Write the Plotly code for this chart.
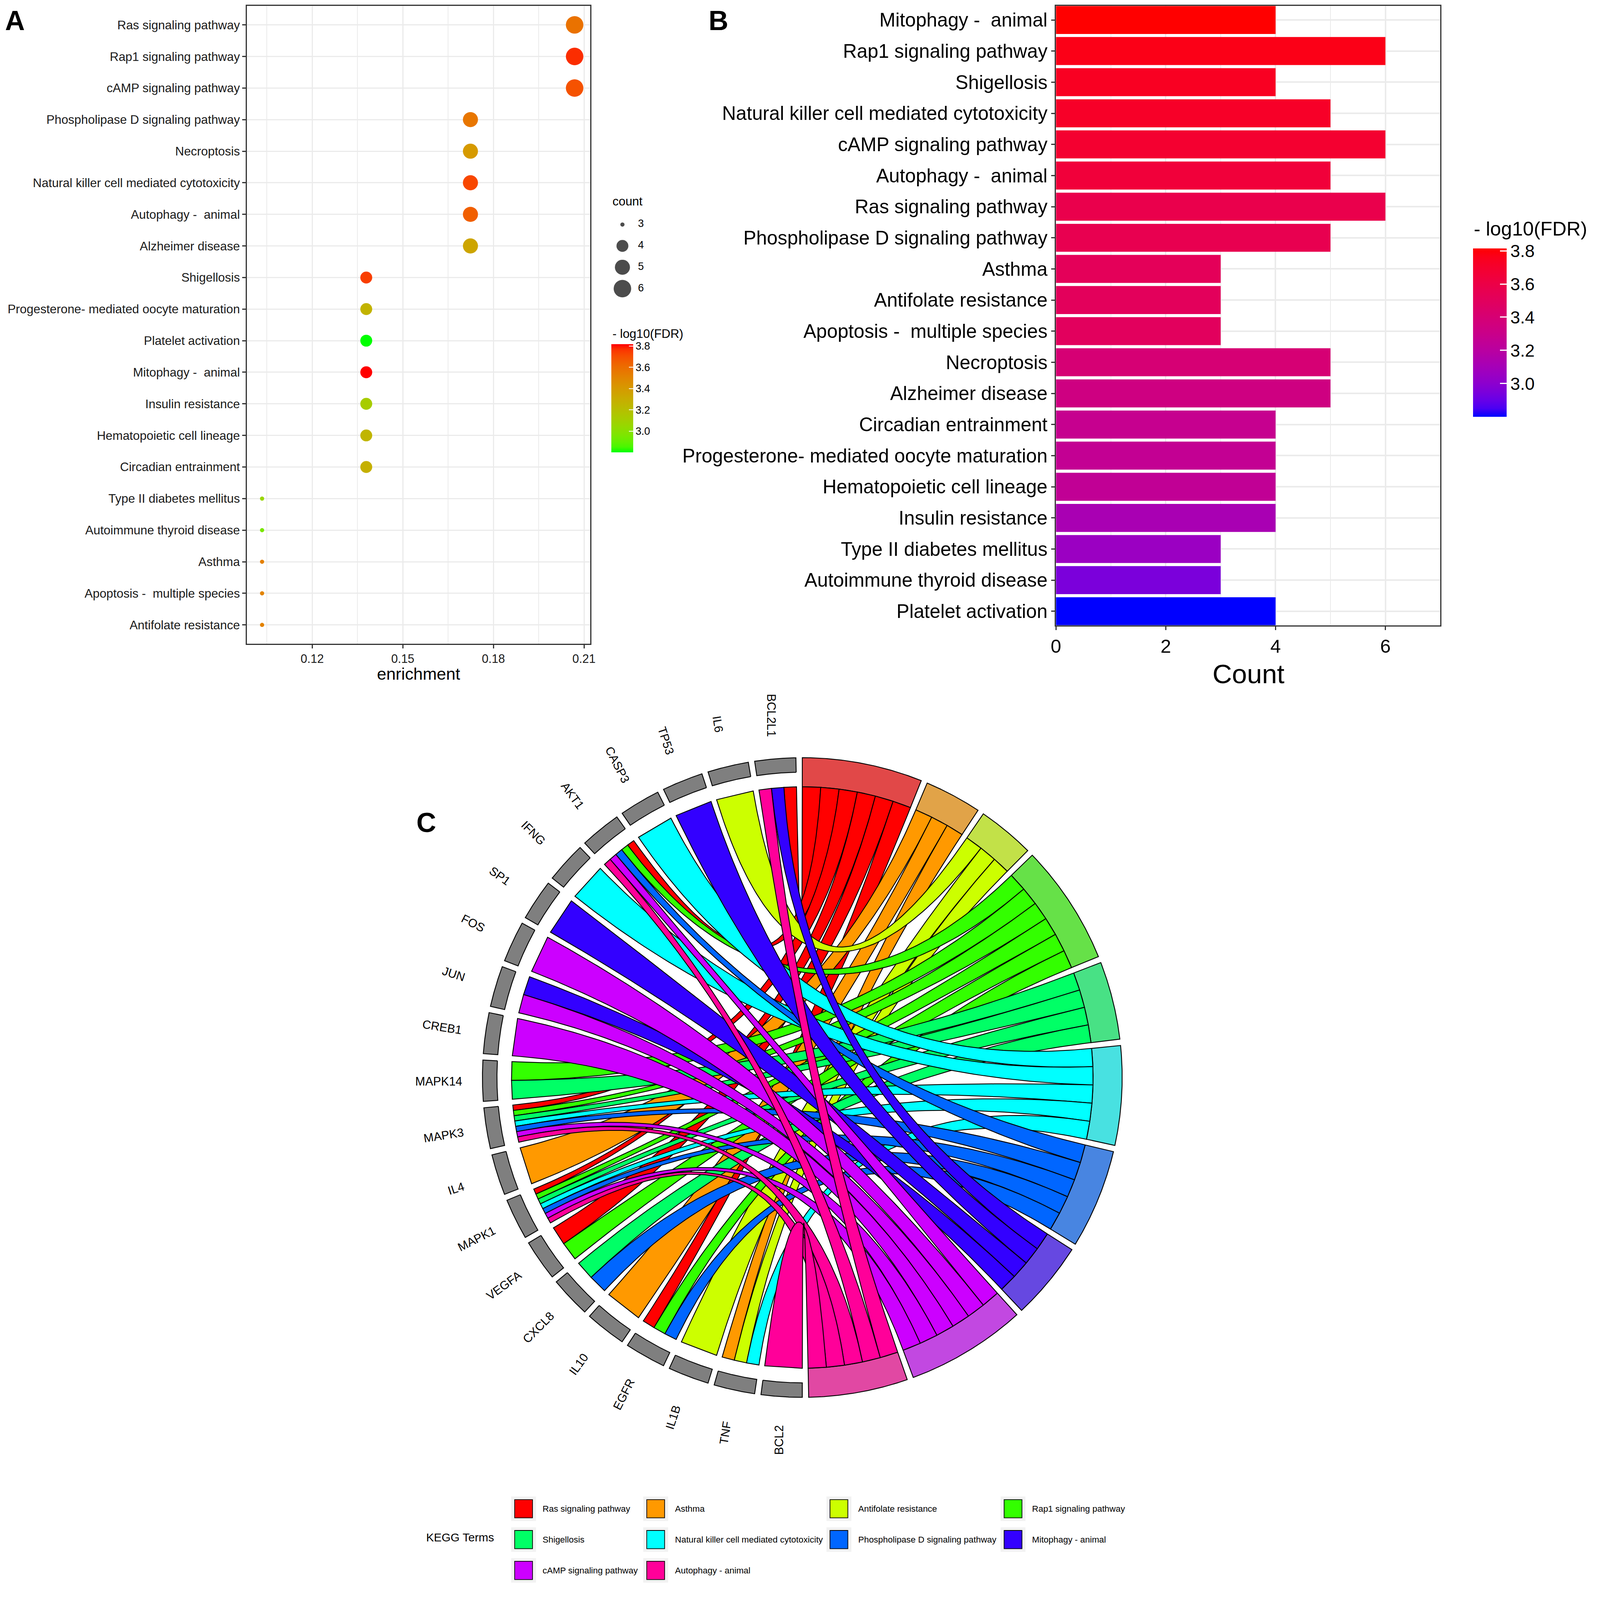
import numpy as np
import plotly.graph_objects as go

# layout is measured on a 4550 x 4515 grid; the page is drawn at a slightly smaller CSS size
REF_W, REF_H = 4550, 4515
S = 1 / 1.115
FIG_W, FIG_H = round(REF_W * S), round(REF_H * S)
FONT = "Liberation Sans, Arial, sans-serif"

# ---------------- data: panels A and B ----------------
# pathways in the order of panel B (top to bottom)
pathways = ["Mitophagy - animal", "Rap1 signaling pathway", "Shigellosis",
            "Natural killer cell mediated cytotoxicity", "cAMP signaling pathway",
            "Autophagy - animal", "Ras signaling pathway", "Phospholipase D signaling pathway",
            "Asthma", "Antifolate resistance", "Apoptosis - multiple species", "Necroptosis",
            "Alzheimer disease", "Circadian entrainment", "Progesterone- mediated oocyte maturation",
            "Hematopoietic cell lineage", "Insulin resistance", "Type II diabetes mellitus",
            "Autoimmune thyroid disease", "Platelet activation"]
counts = [4, 6, 4, 5, 6, 5, 6, 5, 3, 3, 3, 5, 5, 4, 4, 4, 4, 3, 3, 4]
neg_log10_fdr = [3.815, 3.77, 3.74, 3.72, 3.69, 3.65, 3.58, 3.56, 3.52, 3.51, 3.50,
                 3.40, 3.34, 3.28, 3.26, 3.25, 3.12, 3.06, 2.95, 2.80]
enrichment = [0.1379, 0.2069, 0.1379, 0.1724, 0.2069, 0.1724, 0.2069, 0.1724, 0.1034, 0.1034,
              0.1034, 0.1724, 0.1724, 0.1379, 0.1379, 0.1379, 0.1379, 0.1034, 0.1034, 0.1379]
# panel A order (top to bottom)
order_a = ["Ras signaling pathway", "Rap1 signaling pathway", "cAMP signaling pathway",
           "Phospholipase D signaling pathway", "Necroptosis",
           "Natural killer cell mediated cytotoxicity", "Autophagy - animal", "Alzheimer disease",
           "Shigellosis", "Progesterone- mediated oocyte maturation", "Platelet activation",
           "Mitophagy - animal", "Insulin resistance", "Hematopoietic cell lineage",
           "Circadian entrainment", "Type II diabetes mellitus", "Autoimmune thyroid disease",
           "Asthma", "Apoptosis - multiple species", "Antifolate resistance"]
count_breaks = [3, 4, 5, 6]
fdr_ticks = [3.0, 3.2, 3.4, 3.6, 3.8]

# ---------------- data: panel C (chord) ----------------
kegg_terms = ["Ras signaling pathway", "Asthma", "Antifolate resistance", "Rap1 signaling pathway",
              "Shigellosis", "Natural killer cell mediated cytotoxicity",
              "Phospholipase D signaling pathway", "Mitophagy - animal",
              "cAMP signaling pathway", "Autophagy - animal"]
chord_genes = ["BCL2L1", "IL6", "TP53", "CASP3", "AKT1", "IFNG", "SP1", "FOS", "JUN", "CREB1",
               "MAPK14", "MAPK3", "IL4", "MAPK1", "VEGFA", "CXCL8", "IL10", "EGFR", "IL1B",
               "TNF", "BCL2"]
# term indices (into kegg_terms) for each gene
gene_terms = [[0, 7, 9], [2], [7], [5], [0, 3, 6, 8, 9], [5], [7], [8], [7, 8], [8],
              [3, 4], [0, 3, 4, 5, 6, 8, 9], [1], [0, 3, 4, 5, 6, 8, 9], [0, 3], [4, 6],
              [1], [0, 3, 6], [2], [1, 2, 5], [9]]

term_colors = ["#FF0000", "#FF9900", "#CCFF00", "#33FF00", "#00FF66",
               "#00FFFF", "#0066FF", "#3300FF", "#CC00FF", "#FF0099"]


def px_x(x):
    return x / REF_W


def px_y(y):
    return 1 - y / REF_H


def sz(v):
    return v * S


def label(name):
    return name.replace(" - ", " -\u00a0 ")


# Lab interpolated gradients (like ggplot's scale_*_gradient)
M = np.array([[0.4124564, 0.3575761, 0.1804375],
              [0.2126729, 0.7151522, 0.0721750],
              [0.0193339, 0.1191920, 0.9503041]])
WHITE = np.array([0.95047, 1.0, 1.08883])


def to_lab(h):
    rgb = np.array([int(h[i:i + 2], 16) for i in (1, 3, 5)]) / 255.0
    lin = np.where(rgb <= 0.04045, rgb / 12.92, ((rgb + 0.055) / 1.055) ** 2.4)
    xyz = M @ lin / WHITE
    f = np.where(xyz > 0.008856, np.cbrt(xyz), 7.787 * xyz + 16 / 116)
    return np.array([116 * f[1] - 16, 500 * (f[0] - f[1]), 200 * (f[1] - f[2])])


def to_hex(lab):
    fy = (lab[0] + 16) / 116
    f = np.array([fy + lab[1] / 500, fy, fy - lab[2] / 200])
    xyz = np.where(f ** 3 > 0.008856, f ** 3, (f - 16 / 116) / 7.787) * WHITE
    lin = np.clip(np.linalg.inv(M) @ xyz, 0, 1)
    rgb = np.where(lin <= 0.0031308, 12.92 * lin, 1.055 * lin ** (1 / 2.4) - 0.055)
    rgb = np.clip(np.round(rgb * 255), 0, 255).astype(int)
    return "#%02X%02X%02X" % tuple(rgb)


def gradient(low, high, n=21):
    a, b = to_lab(low), to_lab(high)
    return [[i / (n - 1), to_hex(a + (b - a) * i / (n - 1))] for i in range(n)]


green_red = gradient("#00FF00", "#FF0000")
blue_red = gradient("#0000FF", "#FF0000")

lo, hi = min(neg_log10_fdr), max(neg_log10_fdr)
cmin_c, cmax_c = min(counts), max(counts)


def dot_size(c):
    return sz(12 + 38 * np.sqrt((c - cmin_c) / (cmax_c - cmin_c)))


fig = go.Figure()

# ---------------- panel A ----------------
pos = {n: i for i, n in enumerate(pathways)}
a_idx = [pos[n] for n in order_a]
fig.add_trace(go.Scatter(
    x=[enrichment[i] for i in a_idx], y=[label(n) for n in order_a], mode="markers",
    marker=dict(size=[dot_size(counts[i]) for i in a_idx],
                color=[neg_log10_fdr[i] for i in a_idx], colorscale=green_red,
                cmin=lo, cmax=hi, opacity=1, line=dict(width=0),
                colorbar=dict(x=px_x(1736), xanchor="left", xpad=0, y=px_y(974), yanchor="top",
                              ypad=0, len=sz(309), lenmode="pixels", thickness=sz(62),
                              outlinewidth=0, tickvals=fdr_ticks, tickformat=".1f",
                              ticks="inside", ticklen=sz(12), tickcolor="white", tickwidth=sz(2),
                              tickfont=dict(size=sz(30), color="black", family=FONT))),
    xaxis="x", yaxis="y", hoverinfo="skip"))

# size legend for panel A
fig.add_trace(go.Scatter(
    x=[0.23] * len(count_breaks), y=count_breaks, mode="markers",
    marker=dict(size=[dot_size(c) for c in count_breaks], color="black", line=dict(width=0)),
    xaxis="x3", yaxis="y3", hoverinfo="skip"))
fig.add_trace(go.Scatter(
    x=[0.6] * len(count_breaks), y=count_breaks, mode="text", text=[str(c) for c in count_breaks],
    textposition="middle right", textfont=dict(size=sz(30), color="black", family=FONT),
    xaxis="x3", yaxis="y3", hoverinfo="skip"))

# ---------------- panel B ----------------
fig.add_trace(go.Bar(
    x=counts, y=[label(n) for n in pathways], orientation="h", width=0.9,
    marker=dict(color=neg_log10_fdr, colorscale=blue_red, cmin=lo, cmax=hi, line=dict(width=0),
                colorbar=dict(x=px_x(4195), xanchor="left", xpad=0, y=px_y(700), yanchor="top",
                              ypad=0, len=sz(481), lenmode="pixels", thickness=sz(96),
                              outlinewidth=0, tickvals=fdr_ticks, tickformat=".1f",
                              ticks="inside", ticklen=sz(18), tickcolor="white", tickwidth=sz(3),
                              tickfont=dict(size=sz(50), color="black", family=FONT))),
    xaxis="x2", yaxis="y2", hoverinfo="skip"))

# ---------------- panel C: chord (GOChord layout) ----------------
space = 0.02
n_gen = len(chord_genes)
nrib = [sum(t in g for g in gene_terms) for t in range(len(kegg_terms))]
tot = sum(nrib)
proc_start = np.concatenate([[0.0], np.cumsum([np.pi * n / tot for n in nrib])[:-1]])
proc_width = [np.pi * n / tot - space for n in nrib]
gene_start = [-space - i * np.pi / n_gen for i in range(n_gen)]
gene_width = -np.pi / n_gen + space
edge = sz(2.5)


def ring(r1, r2, a0, a1, n=60):
    a = np.linspace(a0, a1, n)
    xs = np.concatenate([r1 * np.sin(a), r2 * np.sin(a[::-1])])
    ys = np.concatenate([r1 * np.cos(a), r2 * np.cos(a[::-1])])
    return list(np.append(xs, xs[0])), list(np.append(ys, ys[0]))


# process segments: gray70 under the colour at alpha 0.6
for t, col in enumerate(term_colors):
    rgb = np.array([int(col[i:i + 2], 16) for i in (1, 3, 5)])
    mix = np.round(0.6 * rgb + 0.4 * 179).astype(int)
    xs, ys = ring(1.0, 1.1, proc_start[t], proc_start[t] + proc_width[t])
    fig.add_trace(go.Scatter(x=xs, y=ys, mode="lines", fill="toself",
                             fillcolor="rgb(%d,%d,%d)" % tuple(mix),
                             line=dict(color="black", width=edge),
                             xaxis="x5", yaxis="y5", hoverinfo="skip"))

# ribbon ends on the gene side
ends = {t: [] for t in range(len(kegg_terms))}
for g, terms in enumerate(gene_terms):
    val = np.linspace(gene_start[g], gene_start[g] + gene_width, len(terms) + 1)
    for v, t in enumerate(terms):
        ends[t].append((g, val[v], val[v + 1]))

tt = np.linspace(0, 1, 101)
for t in range(len(kegg_terms)):
    links = sorted(ends[t])
    pv = np.linspace(proc_start[t], proc_start[t] + proc_width[t], len(links) + 1)
    for k, (g, e1, e2) in enumerate(links):
        s1, s2 = pv[k], pv[k + 1]
        x1 = (1 - tt) ** 2 * np.sin(s1) + tt ** 2 * np.sin(e1)
        y1 = (1 - tt) ** 2 * np.cos(s1) + tt ** 2 * np.cos(e1)
        x2 = (1 - tt) ** 2 * np.sin(s2) + tt ** 2 * np.sin(e2)
        y2 = (1 - tt) ** 2 * np.cos(s2) + tt ** 2 * np.cos(e2)
        xs = np.concatenate([x1, x2[::-1], x1[:1]])
        ys = np.concatenate([y1, y2[::-1], y1[:1]])
        fig.add_trace(go.Scatter(x=xs, y=ys, mode="lines", fill="toself",
                                 fillcolor=term_colors[t], line=dict(color="black", width=edge),
                                 xaxis="x5", yaxis="y5", hoverinfo="skip"))

# gene segments
gx, gy = [], []
for g in range(n_gen):
    xs, ys = ring(1.05, 1.1, gene_start[g], gene_start[g] + gene_width)
    gx += xs + [None]
    gy += ys + [None]
fig.add_trace(go.Scatter(x=gx, y=gy, mode="lines", fill="toself", fillcolor="#7F7F7F",
                         line=dict(color="black", width=edge), xaxis="x5", yaxis="y5",
                         hoverinfo="skip"))

annotations = []
aseq = np.linspace(0, 180, n_gen)
for g, name in enumerate(chord_genes):
    a = gene_start[g] + gene_width / 2
    ang = aseq[g] + 270 if aseq[g] + 270 <= 360 else aseq[g] - 90
    annotations.append(dict(x=1.25 * np.sin(a), y=1.25 * np.cos(a), xref="x5", yref="y5",
                            text=name, showarrow=False, textangle=((-ang + 180) % 360) - 180,
                            xanchor="center", yanchor="middle",
                            font=dict(size=sz(34), color="black", family=FONT)))


def note(text, x, y, size, xanchor="center", bold=False):
    return dict(x=px_x(x), y=px_y(y), xref="paper", yref="paper",
                text="<b>%s</b>" % text if bold else text, showarrow=False,
                xanchor=xanchor, yanchor="middle",
                font=dict(size=sz(size), color="black", family=FONT))


# legend for the chord
shapes = []
col_x = [1460, 1837, 2360, 2857]
row_y = [4298, 4386, 4474]
for i, term in enumerate(kegg_terms):
    cx, cy = col_x[i % 4], row_y[i // 4]
    shapes.append(dict(type="rect", xref="paper", yref="paper", x0=px_x(cx - 10), x1=px_x(cx + 61),
                       y0=px_y(cy + 35), y1=px_y(cy - 35), fillcolor="#F2F2F2", line=dict(width=0),
                       layer="below"))
    shapes.append(dict(type="rect", xref="paper", yref="paper", x0=px_x(cx), x1=px_x(cx + 51),
                       y0=px_y(cy + 26), y1=px_y(cy - 26), fillcolor=term_colors[i],
                       line=dict(color="black", width=sz(2))))
    annotations.append(note(term, cx + 78, cy, 25, "left"))
annotations.append(note("KEGG Terms", 1205, 4380, 33, "left"))

# panel letters, axis titles, legend titles
for txt, x, y in [("A", 34, 50), ("B", 2042, 50), ("C", 1208, 2340)]:
    annotations.append(note(txt, x, y, 78, bold=True))
annotations += [
    note("enrichment", 1186, 1915, 48),
    note("Count", 3554, 1915, 77),
    note("count", 1737, 566, 35, "left"),
    note("- log10(FDR)", 1737, 944, 35, "left"),
    note("- log10(FDR)", 4195, 644, 56, "left"),
]

frame = dict(showline=True, mirror=True, linecolor="#333333", linewidth=sz(3), ticks="outside",
             ticklen=sz(10), tickwidth=sz(3), tickcolor="#333333", showgrid=True,
             gridcolor="#EBEBEB", zeroline=False, automargin=False, fixedrange=True)

half = 1.45
ccx, ccy, unit = 2281, 3067, 830

fig.update_layout(
    width=FIG_W, height=FIG_H, template="none", showlegend=False, hovermode=False,
    margin=dict(l=0, r=0, t=0, b=0), paper_bgcolor="white", plot_bgcolor="white",
    font=dict(family=FONT, color="black"),
    xaxis=dict(domain=[px_x(696), px_x(1676)], range=[0.0984, 0.2121], anchor="y",
               tickvals=[0.12, 0.15, 0.18, 0.21], tickformat=".2f", gridwidth=sz(3.5),
               minor=dict(tickvals=[0.105, 0.135, 0.165, 0.195], showgrid=True,
                          gridcolor="#EBEBEB", gridwidth=sz(2), ticks=""),
               tickfont=dict(size=sz(34), color="#1A1A1A"), **frame),
    yaxis=dict(domain=[px_y(1829), px_y(8)], anchor="x", type="category", categoryorder="array",
               categoryarray=[label(n) for n in order_a], range=[19.6, -0.6], gridwidth=sz(3.5),
               tickfont=dict(size=sz(35), color="#1A1A1A"), **frame),
    xaxis2=dict(domain=[px_x(3005), px_x(4102)], range=[0, 7], anchor="y2",
                tickvals=[0, 2, 4, 6], gridwidth=sz(4),
                minor=dict(tickvals=[1, 3, 5, 7], showgrid=True, gridcolor="#EBEBEB",
                           gridwidth=sz(2.5), ticks=""),
                tickfont=dict(size=sz(54), color="black"), **frame),
    yaxis2=dict(domain=[px_y(1776), px_y(8)], anchor="x2", type="category", categoryorder="array",
                categoryarray=[label(n) for n in pathways], range=[19.45, -0.45],
                gridwidth=sz(4), tickfont=dict(size=sz(55), color="black"), **frame),
    xaxis3=dict(domain=[px_x(1740), px_x(1860)], range=[0, 1], visible=False, anchor="y3",
                fixedrange=True),
    yaxis3=dict(domain=[px_y(845.5), px_y(601.5)], range=[6.5, 2.5], visible=False, anchor="x3",
                fixedrange=True),
    xaxis5=dict(domain=[px_x(ccx - half * unit), px_x(ccx + half * unit)], range=[-half, half],
                visible=False, anchor="y5", fixedrange=True),
    yaxis5=dict(domain=[px_y(ccy + half * unit), px_y(ccy - half * unit)], range=[-half, half],
                visible=False, anchor="x5", fixedrange=True),
    annotations=annotations, shapes=shapes,
)

fig.write_html("out.html")
